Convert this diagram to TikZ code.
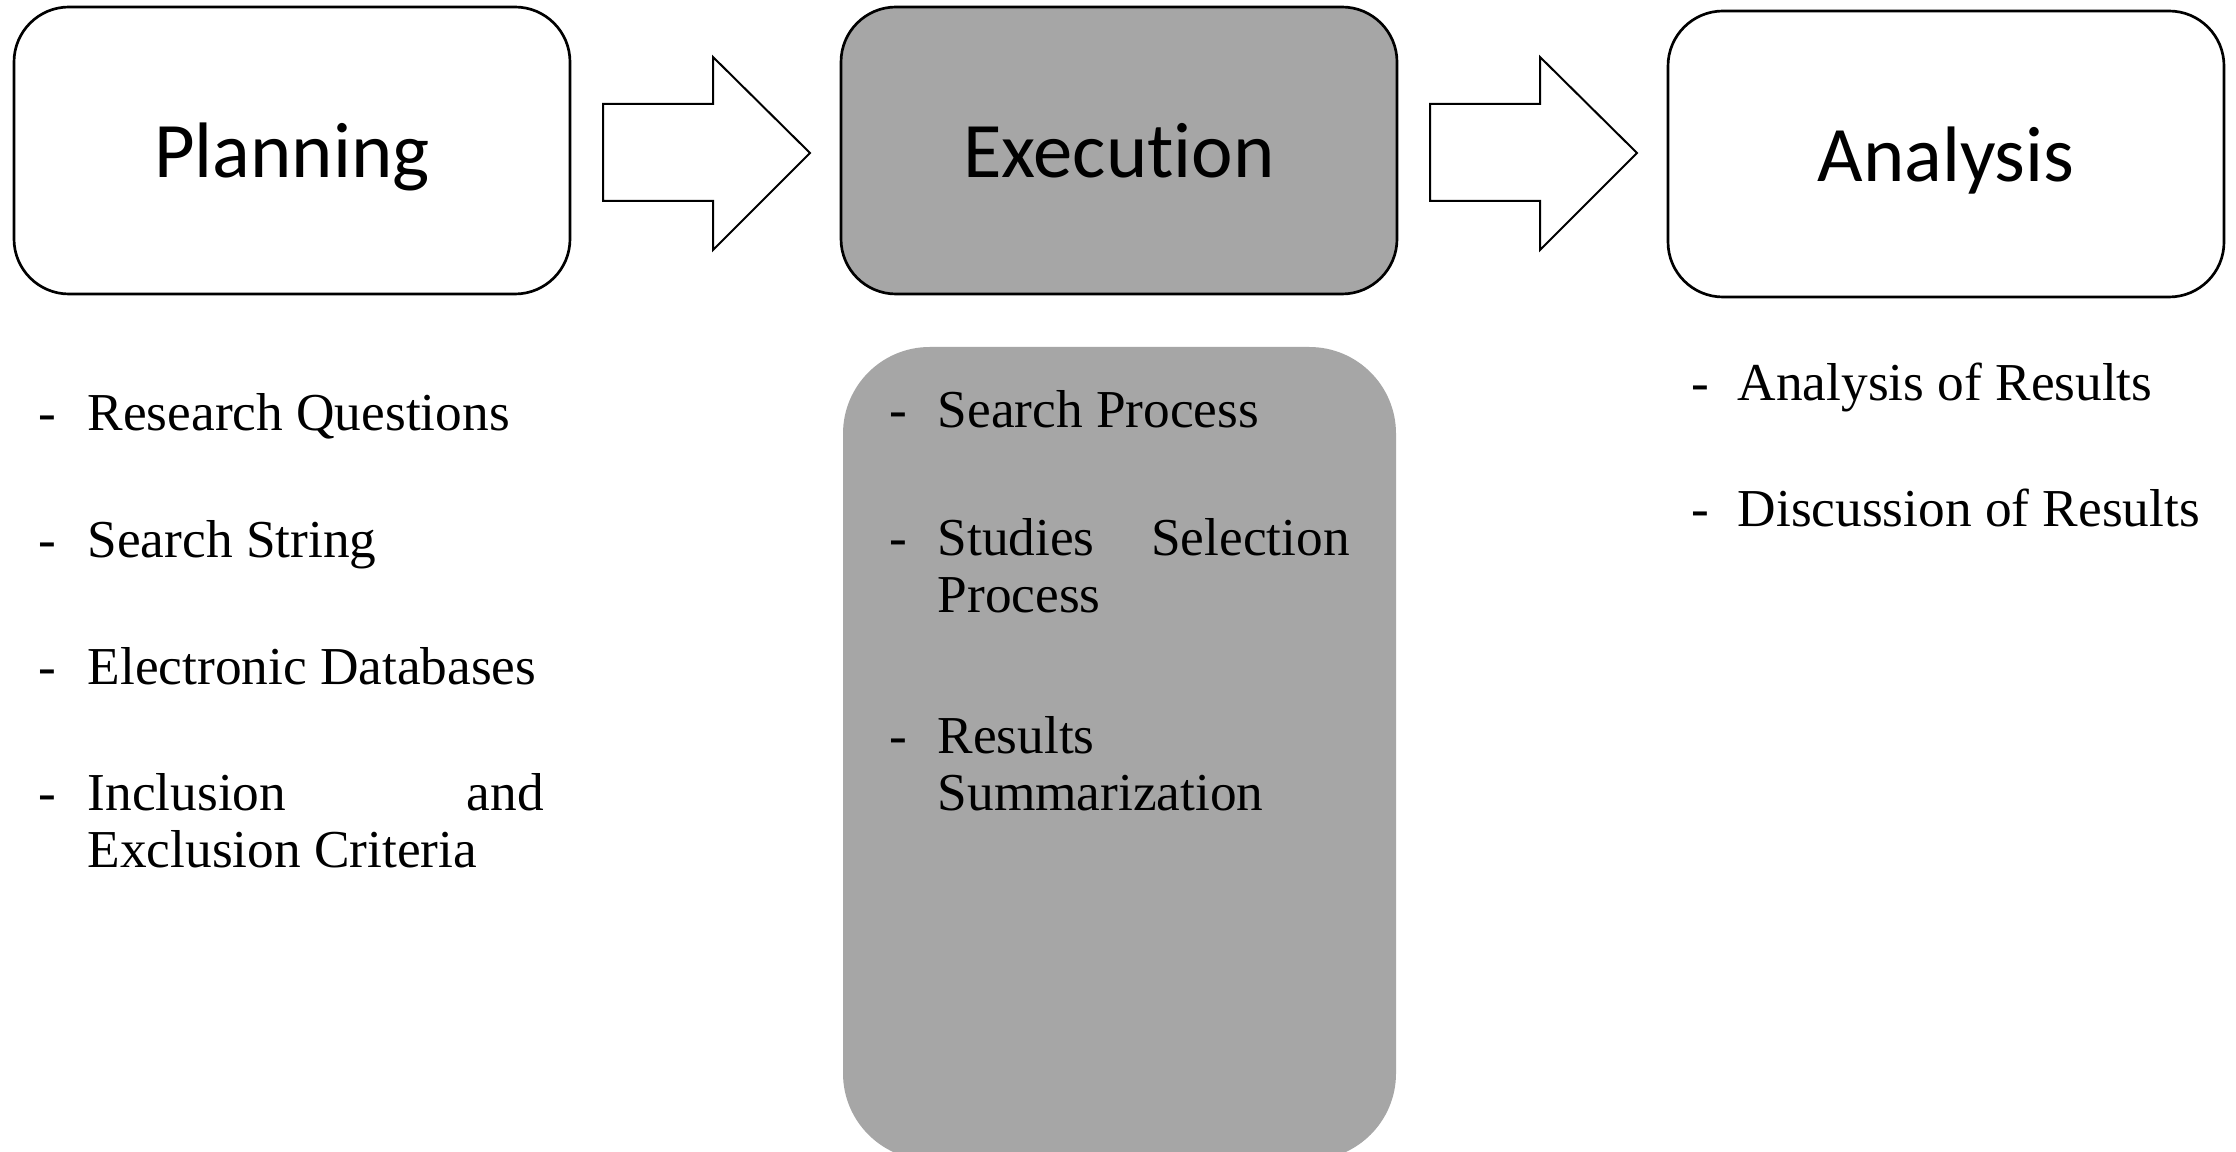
\documentclass[tikz,border=0pt]{standalone}
\usepackage{fontspec}
\setmainfont{Liberation Serif}
\newfontfamily\titlefont[Ligatures=NoCommon]{Carlito}
\definecolor{boxgray}{RGB}{166,166,166}
\begin{document}
\begin{tikzpicture}[x=0.3pt,y=-0.3pt,
  phase/.style={draw=black, line width=0.8pt, rounded corners=16.5pt,
    minimum width=166.8pt, minimum height=86.1pt, inner sep=0pt,
    text height=16.5pt, text depth=0pt,
    font=\titlefont\fontsize{23.6pt}{28pt}\selectfont},
  blockarrow/.style={draw=black, line width=0.6pt, fill=white, line join=miter},
  item/.style={anchor=base west, inner sep=0pt,
    font=\fontsize{16pt}{19pt}\selectfont}]
\useasboundingbox (0,0) rectangle (2236,1152);
\fill[white] (0,0) rectangle (2236,1152);
% phase boxes
\node[phase, fill=white] (plan) at (292,150.5) {Planning};
\node[phase, fill=boxgray] (exec) at (1119,150.5) {Execution};
\node[phase, fill=white, minimum height=85.8pt] (anal) at (1946,154) {Analysis};
% block arrows
\draw[blockarrow] (603,104) -- (713,104) -- (713,57) -- (810,153) -- (713,250) -- (713,201) -- (603,201) -- cycle;
\draw[blockarrow] (1430,104) -- (1540,104) -- (1540,57) -- (1637,153) -- (1540,250) -- (1540,201) -- (1430,201) -- cycle;
% execution details panel
\fill[boxgray, rounded corners=26pt] (843,347) rectangle (1396,1160);
% planning items
\node[item] (pd1) at (38,431) {-};
\node[item] (p1) at (87,431) {Research Questions};
\node[item] (pd2) at (38,558) {-};
\node[item] (p2) at (87,558) {Search String};
\node[item] (pd3) at (38,684) {-};
\node[item] (p3) at (87,684) {Electronic Databases};
\node[item] (pd4) at (38,810) {-};
\node[item] (p4a) at (87,810) {\hbox to 136.8pt{Inclusion\hfill and}};
\node[item] (p4b) at (87,867) {Exclusion Criteria};
% execution items
\node[item] (ed1) at (889,428) {-};
\node[item] (e1) at (937,428) {Search Process};
\node[item] (ed2) at (889,555) {-};
\node[item] (e2a) at (937,555) {\hbox to 123.6pt{Studies\hfill Selection}};
\node[item] (e2b) at (937,612) {Process};
\node[item] (ed3) at (889,753) {-};
\node[item] (e3a) at (937,753) {Results};
\node[item] (e3b) at (937,810) {Summarization};
% analysis items
\node[item] (ad1) at (1691,401) {-};
\node[item] (a1) at (1737,401) {Analysis of Results};
\node[item] (ad2) at (1691,526) {-};
\node[item] (a2) at (1737,526) {Discussion of Results};
\end{tikzpicture}
\end{document}
